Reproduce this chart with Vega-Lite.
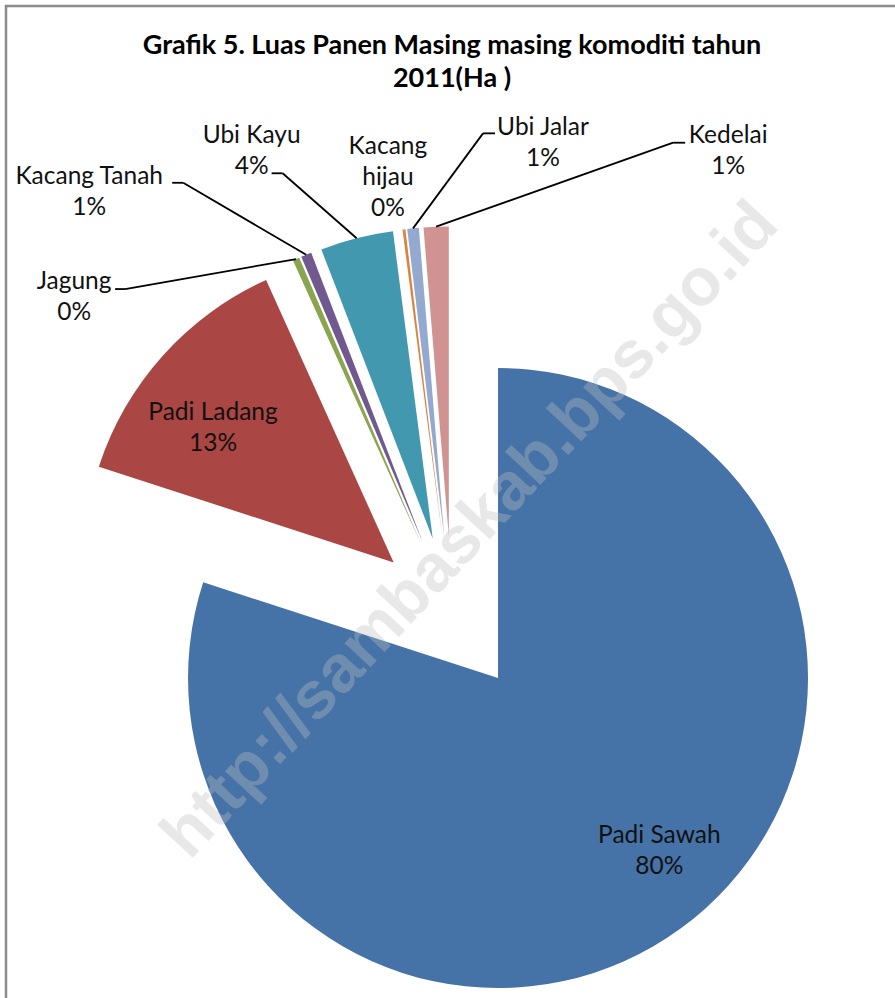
{
  "$schema": "https://vega.github.io/schema/vega-lite/v6.json",
  "width": 892,
  "height": 995,
  "autosize": {"type": "none"},
  "padding": {"left": 6, "top": 6, "right": -3, "bottom": -3},
  "background": "white",
  "config": {"view": {"stroke": "#8c8c8c", "strokeWidth": 2.5}, "font": "Lato"},
  "title": {
    "text": ["Grafik 5. Luas Panen Masing masing komoditi tahun", "2011(Ha )"],
    "font": "Lato", "fontSize": 27, "fontWeight": "bold", "color": "#000000",
    "lineHeight": 33, "anchor": "middle", "offset": -87
  },
  "layer": [
    {
      "data": {"values": [
        {"no": 1, "kategori": "Padi Sawah", "nilai": 80.0},
        {"no": 2, "kategori": "Padi Ladang", "nilai": 13.25},
        {"no": 3, "kategori": "Jagung", "nilai": 0.35},
        {"no": 4, "kategori": "Kacang Tanah", "nilai": 0.55},
        {"no": 5, "kategori": "Ubi Kayu", "nilai": 3.8},
        {"no": 6, "kategori": "Kacang hijau", "nilai": 0.15},
        {"no": 7, "kategori": "Ubi Jalar", "nilai": 0.6},
        {"no": 8, "kategori": "Kedelai", "nilai": 1.3}
      ]},
      "transform": [
        {"joinaggregate": [{"op": "sum", "field": "nilai", "as": "total"}]},
        {"window": [{"op": "sum", "field": "nilai", "as": "kum"}], "sort": [{"field": "no"}], "frame": [null, 0]},
        {"calculate": "2*PI*(datum.kum-datum.nilai)/datum.total", "as": "a0"},
        {"calculate": "2*PI*datum.kum/datum.total", "as": "a1"},
        {"calculate": "(datum.a0+datum.a1)/2", "as": "am"},
        {"calculate": "0.2526*sin(datum.am)", "as": "cx"},
        {"calculate": "0.2526*cos(datum.am)", "as": "cy"},
        {"calculate": "datum.cx+sin(datum.am)", "as": "tx"},
        {"calculate": "datum.cy+cos(datum.am)", "as": "ty"},
        {"calculate": "datum.nilai/datum.total", "as": "persen"},
        {"calculate": "datum.kategori + '\\n' + format(datum.persen, '.0%')", "as": "label"}
      ],
      "layer": [
        {
          "mark": {"type": "arc", "radius": 310},
          "encoding": {
            "x": {"field": "cx", "type": "quantitative", "scale": {"domain": [-1.4387, 1.4387], "nice": false, "zero": false}, "axis": null},
            "y": {"field": "cy", "type": "quantitative", "scale": {"domain": [-1.2461, 1.9635], "nice": false, "zero": false}, "axis": null},
            "theta": {"field": "a0", "type": "quantitative", "scale": null, "stack": null},
            "theta2": {"field": "a1"},
            "color": {"field": "kategori", "type": "nominal", "legend": null,
              "scale": {"domain": ["Padi Sawah", "Padi Ladang", "Jagung", "Kacang Tanah", "Ubi Kayu", "Kacang hijau", "Ubi Jalar", "Kedelai"],
                        "range": ["#4572A7", "#AA4643", "#89A54E", "#71588F", "#4198AF", "#DB843D", "#93A9CF", "#D19392"]}}
          }
        },
        {
          "transform": [{"filter": "datum.kategori === 'Padi Sawah'"}],
          "mark": {"type": "text", "radius": 237, "dx": 22, "dy": -33.5, "fontSize": 24.5, "lineHeight": 31, "lineBreak": "\n", "align": "center", "baseline": "middle", "color": "#111111"},
          "encoding": {
            "x": {"field": "cx", "type": "quantitative", "scale": {"domain": [-1.4387, 1.4387], "nice": false, "zero": false}, "axis": null},
            "y": {"field": "cy", "type": "quantitative", "scale": {"domain": [-1.2461, 1.9635], "nice": false, "zero": false}, "axis": null},
            "theta": {"field": "am", "type": "quantitative", "scale": null, "stack": null},
            "text": {"field": "label"}
          }
        },
        {
          "transform": [{"filter": "datum.kategori === 'Padi Ladang'"}],
          "mark": {"type": "text", "radius": 225, "dx": -13, "dy": 0.5, "fontSize": 24.5, "lineHeight": 31, "lineBreak": "\n", "align": "center", "baseline": "middle", "color": "#111111"},
          "encoding": {
            "x": {"field": "cx", "type": "quantitative", "scale": {"domain": [-1.4387, 1.4387], "nice": false, "zero": false}, "axis": null},
            "y": {"field": "cy", "type": "quantitative", "scale": {"domain": [-1.2461, 1.9635], "nice": false, "zero": false}, "axis": null},
            "theta": {"field": "am", "type": "quantitative", "scale": null, "stack": null},
            "text": {"field": "label"}
          }
        },
        {
          "transform": [{"filter": "datum.kategori === 'Jagung'"}],
          "encoding": {
            "x": {"field": "tx", "type": "quantitative", "scale": {"domain": [-1.4387, 1.4387], "nice": false, "zero": false}, "axis": null},
            "y": {"field": "ty", "type": "quantitative", "scale": {"domain": [-1.2461, 1.9635], "nice": false, "zero": false}, "axis": null}
          },
          "layer": [
            {"mark": {"type": "rule", "color": "#000000", "strokeWidth": 1.8, "x2Offset": -171, "y2Offset": 30}, "encoding": {"x2": {"field": "tx"}, "y2": {"field": "ty"}}},
            {"mark": {"type": "rule", "color": "#000000", "strokeWidth": 1.8, "xOffset": -171, "yOffset": 30, "x2Offset": -181, "y2Offset": 30}, "encoding": {"x2": {"field": "tx"}, "y2": {"field": "ty"}}},
            {"mark": {"type": "text", "dx": -222, "dy": 22.5, "fontSize": 24.5, "lineHeight": 31, "lineBreak": "\n", "align": "center", "baseline": "middle", "color": "#111111"}, "encoding": {"text": {"field": "label"}}}
          ]
        },
        {
          "transform": [{"filter": "datum.kategori === 'Kacang Tanah'"}],
          "encoding": {
            "x": {"field": "tx", "type": "quantitative", "scale": {"domain": [-1.4387, 1.4387], "nice": false, "zero": false}, "axis": null},
            "y": {"field": "ty", "type": "quantitative", "scale": {"domain": [-1.2461, 1.9635], "nice": false, "zero": false}, "axis": null}
          },
          "layer": [
            {"mark": {"type": "rule", "color": "#000000", "strokeWidth": 1.8, "x2Offset": -123, "y2Offset": -72}, "encoding": {"x2": {"field": "tx"}, "y2": {"field": "ty"}}},
            {"mark": {"type": "rule", "color": "#000000", "strokeWidth": 1.8, "xOffset": -123, "yOffset": -72, "x2Offset": -134, "y2Offset": -72}, "encoding": {"x2": {"field": "tx"}, "y2": {"field": "ty"}}},
            {"mark": {"type": "text", "dx": -217, "dy": -77.5, "fontSize": 24.5, "lineHeight": 31, "lineBreak": "\n", "align": "center", "baseline": "middle", "color": "#111111"}, "encoding": {"text": {"field": "label"}}}
          ]
        },
        {
          "transform": [{"filter": "datum.kategori === 'Ubi Kayu'"}],
          "encoding": {
            "x": {"field": "tx", "type": "quantitative", "scale": {"domain": [-1.4387, 1.4387], "nice": false, "zero": false}, "axis": null},
            "y": {"field": "ty", "type": "quantitative", "scale": {"domain": [-1.2461, 1.9635], "nice": false, "zero": false}, "axis": null}
          },
          "layer": [
            {"mark": {"type": "rule", "color": "#000000", "strokeWidth": 1.8, "x2Offset": -74, "y2Offset": -65}, "encoding": {"x2": {"field": "tx"}, "y2": {"field": "ty"}}},
            {"mark": {"type": "rule", "color": "#000000", "strokeWidth": 1.8, "xOffset": -74, "yOffset": -65, "x2Offset": -85, "y2Offset": -65}, "encoding": {"x2": {"field": "tx"}, "y2": {"field": "ty"}}},
            {"mark": {"type": "text", "dx": -105, "dy": -102.5, "fontSize": 24.5, "lineHeight": 31, "lineBreak": "\n", "align": "center", "baseline": "middle", "color": "#111111"}, "encoding": {"text": {"field": "label"}}}
          ]
        },
        {
          "transform": [
            {"filter": "datum.kategori === 'Kacang hijau'"},
            {"calculate": "replace(datum.kategori, ' ', '\\n') + '\\n' + format(datum.persen, '.0%')", "as": "label3"}
          ],
          "mark": {"type": "text", "dx": -16, "dy": -82, "fontSize": 24.5, "lineHeight": 31, "lineBreak": "\n", "align": "center", "baseline": "middle", "color": "#111111"},
          "encoding": {
            "x": {"field": "tx", "type": "quantitative", "scale": {"domain": [-1.4387, 1.4387], "nice": false, "zero": false}, "axis": null},
            "y": {"field": "ty", "type": "quantitative", "scale": {"domain": [-1.2461, 1.9635], "nice": false, "zero": false}, "axis": null},
            "text": {"field": "label3"}
          }
        },
        {
          "transform": [{"filter": "datum.kategori === 'Ubi Jalar'"}],
          "encoding": {
            "x": {"field": "tx", "type": "quantitative", "scale": {"domain": [-1.4387, 1.4387], "nice": false, "zero": false}, "axis": null},
            "y": {"field": "ty", "type": "quantitative", "scale": {"domain": [-1.2461, 1.9635], "nice": false, "zero": false}, "axis": null}
          },
          "layer": [
            {"mark": {"type": "rule", "color": "#000000", "strokeWidth": 1.8, "x2Offset": 70, "y2Offset": -95}, "encoding": {"x2": {"field": "tx"}, "y2": {"field": "ty"}}},
            {"mark": {"type": "rule", "color": "#000000", "strokeWidth": 1.8, "xOffset": 70, "yOffset": -95, "x2Offset": 82, "y2Offset": -95}, "encoding": {"x2": {"field": "tx"}, "y2": {"field": "ty"}}},
            {"mark": {"type": "text", "dx": 130, "dy": -100.5, "fontSize": 24.5, "lineHeight": 31, "lineBreak": "\n", "align": "center", "baseline": "middle", "color": "#111111"}, "encoding": {"text": {"field": "label"}}}
          ]
        },
        {
          "transform": [{"filter": "datum.kategori === 'Kedelai'"}],
          "encoding": {
            "x": {"field": "tx", "type": "quantitative", "scale": {"domain": [-1.4387, 1.4387], "nice": false, "zero": false}, "axis": null},
            "y": {"field": "ty", "type": "quantitative", "scale": {"domain": [-1.2461, 1.9635], "nice": false, "zero": false}, "axis": null}
          },
          "layer": [
            {"mark": {"type": "rule", "color": "#000000", "strokeWidth": 1.8, "x2Offset": 237, "y2Offset": -84}, "encoding": {"x2": {"field": "tx"}, "y2": {"field": "ty"}}},
            {"mark": {"type": "rule", "color": "#000000", "strokeWidth": 1.8, "xOffset": 237, "yOffset": -84, "x2Offset": 249, "y2Offset": -84}, "encoding": {"x2": {"field": "tx"}, "y2": {"field": "ty"}}},
            {"mark": {"type": "text", "dx": 292, "dy": -90.5, "fontSize": 24.5, "lineHeight": 31, "lineBreak": "\n", "align": "center", "baseline": "middle", "color": "#111111"}, "encoding": {"text": {"field": "label"}}}
          ]
        }
      ]
    },
    {
      "data": {"values": [{}]},
      "mark": {"type": "text", "text": "http://sambaskab.bps.go.id", "angle": 313, "font": "Liberation Sans", "fontWeight": "bold", "fontSize": 67, "color": "#bfbfbf", "opacity": 0.35, "align": "center", "baseline": "middle", "dx": -7, "dy": 32}
    }
  ]
}
